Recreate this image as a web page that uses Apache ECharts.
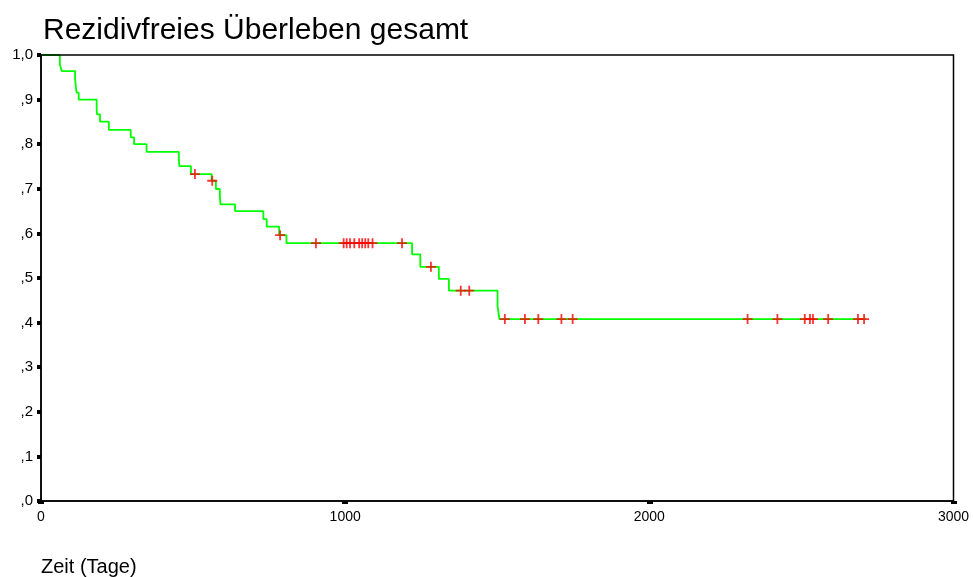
<!DOCTYPE html>
<html>
<head>
<meta charset="utf-8">
<script src="https://cdn.jsdelivr.net/npm/echarts@6/dist/echarts.min.js"></script>
<style>html,body{margin:0;padding:0;background:#fff}#c{width:973px;height:577px}</style>
</head>
<body>
<div id="c"></div>
<script>
var chartTitle = 'Rezidivfreies Überleben gesamt';
var xAxisTitle = 'Zeit (Tage)';
var eventTimes = [0, 62, 68, 112, 114, 117, 124, 183, 184, 194, 223, 295, 306, 347, 453, 455, 493, 561, 575, 588, 590, 638, 731, 742, 783, 807, 1220, 1247, 1308, 1341, 1501, 1507, 2712];
var survival   = [1.0, 0.979, 0.964, 0.948, 0.932, 0.9155, 0.900, 0.882, 0.867, 0.8505, 0.832, 0.8155, 0.800, 0.783, 0.768, 0.751, 0.733, 0.718, 0.6996, 0.683, 0.665, 0.650, 0.632, 0.615, 0.596, 0.578, 0.553, 0.525, 0.498, 0.4715, 0.437, 0.408, 0.408];
var censorTimes  = [506, 563, 786, 904, 995, 1005, 1016, 1030, 1046, 1056, 1066, 1076, 1090, 1187, 1282, 1380, 1408, 1525, 1591, 1635, 1711, 1748, 2323, 2421, 2511, 2528, 2538, 2588, 2686, 2706];
var censorValues = [0.733, 0.718, 0.596, 0.578, 0.578, 0.578, 0.578, 0.578, 0.578, 0.578, 0.578, 0.578, 0.578, 0.578, 0.525, 0.4715, 0.4715, 0.408, 0.408, 0.408, 0.408, 0.408, 0.408, 0.408, 0.408, 0.408, 0.408, 0.408, 0.408, 0.408];
var yTickLabels = [',0', ',1', ',2', ',3', ',4', ',5', ',6', ',7', ',8', ',9', '1,0'];
var xTickValues = [0, 1000, 2000, 3000];

var font = '"Liberation Sans", Arial, sans-serif';
var lineData = eventTimes.map(function (t, i) { return [t, survival[i]]; });
var censorData = censorTimes.map(function (t, i) { return [t, censorValues[i]]; });

var chart = echarts.init(document.getElementById('c'), null, { renderer: 'canvas' });
chart.setOption({
  animation: false,
  backgroundColor: '#fff',
  title: [
    { text: chartTitle, left: 43, top: 16, padding: 0, textStyle: { fontFamily: font, fontSize: 30, fontWeight: 'normal', color: '#000' } },
    { text: xAxisTitle, left: 41, top: 557, padding: 0, textStyle: { fontFamily: font, fontSize: 20, fontWeight: 'normal', color: '#000' } }
  ],
  grid: { left: 41, right: 19.5, top: 55, bottom: 76, show: true, zlevel: 1, borderColor: '#000', borderWidth: 1.5, backgroundColor: 'transparent' },
  xAxis: {
    type: 'value', min: xTickValues[0], max: xTickValues[xTickValues.length - 1], interval: 1000,
    zlevel: 1,
    splitLine: { show: false },
    axisLine: { show: true, lineStyle: { color: '#000', width: 1.5 } },
    axisTick: { show: true, length: 3, lineStyle: { color: '#000', width: 6 } },
    axisLabel: { margin: 9, fontFamily: font, fontSize: 14, color: '#000', formatter: function (v) { return String(v); } }
  },
  yAxis: {
    type: 'value', min: 0, max: 1, interval: 0.1,
    zlevel: 1,
    splitLine: { show: false },
    axisLine: { show: true, lineStyle: { color: '#000', width: 1.5 } },
    axisTick: { show: true, length: 4, lineStyle: { color: '#000', width: 4 } },
    axisLabel: {
      margin: 8, fontFamily: font, fontSize: 15, color: '#000',
      formatter: function (v) { return yTickLabels[Math.round(v * 10)]; }
    }
  },
  series: [
    {
      type: 'line', step: 'end', data: lineData, symbol: 'none',
      lineStyle: { color: '#00ff00', width: 1.8 }, z: 2
    },
    {
      type: 'scatter', data: censorData,
      symbol: 'path://M4.1,0H5.9V4.1H10V5.9H5.9V10H4.1V5.9H0V4.1H4.1Z',
      symbolSize: 10, itemStyle: { color: '#ff0000' }, z: 3
    }
  ]
});
</script>
</body>
</html>
